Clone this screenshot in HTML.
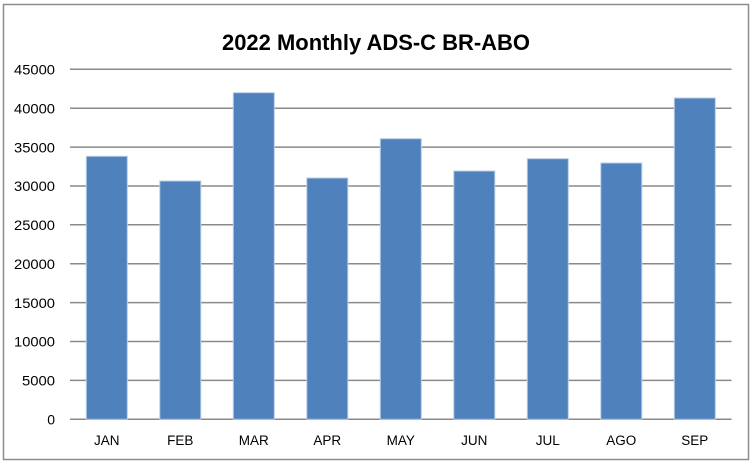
<!DOCTYPE html>
<html>
<head>
<meta charset="utf-8">
<style>
  html,body{margin:0;padding:0;background:#fff;}
  body{width:754px;height:464px;overflow:hidden;}
  svg{display:block;}
  text{font-family:"Liberation Sans", Arial, sans-serif;fill:#000;}
</style>
</head>
<body>
<svg width="754" height="464" viewBox="0 0 754 464" xmlns="http://www.w3.org/2000/svg">
  <rect x="0" y="0" width="754" height="464" fill="#fff"/>
  <!-- outer frame -->
  <rect x="3.5" y="4.5" width="745" height="455" fill="#fff" stroke="#8c8c8c" stroke-width="1.5"/>

  <!-- title -->
  <text x="376" y="50" text-anchor="middle" font-size="22" font-weight="bold" textLength="308" lengthAdjust="spacingAndGlyphs">2022 Monthly ADS-C BR-ABO</text>

  <!-- gridlines -->
  <g stroke="#8a8a8a" stroke-width="1.5">
    <line x1="70" y1="69.3" x2="731.5" y2="69.3"/>
    <line x1="70" y1="108.2" x2="731.5" y2="108.2"/>
    <line x1="70" y1="147.1" x2="731.5" y2="147.1"/>
    <line x1="70" y1="186" x2="731.5" y2="186"/>
    <line x1="70" y1="224.8" x2="731.5" y2="224.8"/>
    <line x1="70" y1="263.7" x2="731.5" y2="263.7"/>
    <line x1="70" y1="302.6" x2="731.5" y2="302.6"/>
    <line x1="70" y1="341.5" x2="731.5" y2="341.5"/>
    <line x1="70" y1="380.4" x2="731.5" y2="380.4"/>
    <line x1="70" y1="419.3" x2="731.5" y2="419.3"/>
  </g>

  <!-- y labels -->
  <g font-size="14" text-anchor="end">
    <text x="55" y="74.5" textLength="41" lengthAdjust="spacingAndGlyphs">45000</text>
    <text x="55" y="113.4" textLength="41" lengthAdjust="spacingAndGlyphs">40000</text>
    <text x="55" y="152.3" textLength="41" lengthAdjust="spacingAndGlyphs">35000</text>
    <text x="55" y="191.2" textLength="41" lengthAdjust="spacingAndGlyphs">30000</text>
    <text x="55" y="230" textLength="41" lengthAdjust="spacingAndGlyphs">25000</text>
    <text x="55" y="268.9" textLength="41" lengthAdjust="spacingAndGlyphs">20000</text>
    <text x="55" y="307.8" textLength="41" lengthAdjust="spacingAndGlyphs">15000</text>
    <text x="55" y="346.7" textLength="41" lengthAdjust="spacingAndGlyphs">10000</text>
    <text x="55" y="385.6" textLength="33" lengthAdjust="spacingAndGlyphs">5000</text>
    <text x="55" y="424.5">0</text>
  </g>

  <!-- bars -->
  <g fill="#4f81bd" stroke="#b9cde5" stroke-width="1">
    <rect x="86.3" y="156.3" width="41" height="263"/>
    <rect x="159.8" y="181" width="41" height="238.3"/>
    <rect x="233.3" y="92.7" width="41" height="326.6"/>
    <rect x="306.8" y="178" width="41" height="241.3"/>
    <rect x="380.3" y="138.7" width="41" height="280.6"/>
    <rect x="453.8" y="171" width="41" height="248.3"/>
    <rect x="527.3" y="158.7" width="41" height="260.6"/>
    <rect x="600.8" y="163" width="41" height="256.3"/>
    <rect x="674.3" y="98" width="41" height="321.3"/>
  </g>

  <!-- x labels -->
  <g font-size="13.5" text-anchor="middle">
    <text x="106.8" y="445">JAN</text>
    <text x="180.3" y="445">FEB</text>
    <text x="253.8" y="445">MAR</text>
    <text x="327.3" y="445">APR</text>
    <text x="400.8" y="445">MAY</text>
    <text x="474.3" y="445">JUN</text>
    <text x="547.8" y="445">JUL</text>
    <text x="621.3" y="445">AGO</text>
    <text x="694.8" y="445">SEP</text>
  </g>
</svg>
</body>
</html>
